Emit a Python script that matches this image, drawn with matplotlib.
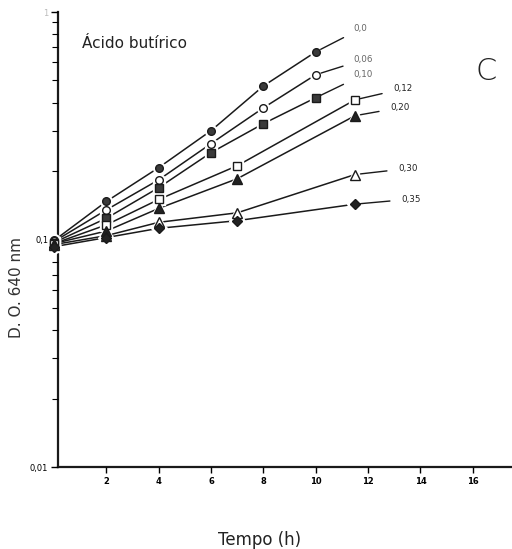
import matplotlib
matplotlib.use("Agg")
import matplotlib.pyplot as plt
from matplotlib.ticker import FixedLocator, LogLocator, NullFormatter, FixedFormatter

# ---- data ----
labels = ["0,0", "0,06", "0,10", "0,12", "0,20", "0,30", "0,35"]
t_a = [0, 2, 4, 6, 8, 10]
t_b = [0, 2, 4, 7, 11.5]
od_000 = [0.099, 0.147, 0.207, 0.301, 0.473, 0.668]
od_006 = [0.098, 0.135, 0.183, 0.264, 0.379, 0.530]
od_010 = [0.097, 0.124, 0.169, 0.241, 0.323, 0.420]
od_012 = [0.096, 0.116, 0.150, 0.211, 0.411]
od_020 = [0.096, 0.109, 0.137, 0.185, 0.350]
od_030 = [0.095, 0.104, 0.119, 0.131, 0.193]
od_035 = [0.093, 0.102, 0.112, 0.121, 0.143]
x_ticks = [2, 4, 6, 8, 10, 12, 14, 16]
y_ticks = [0.01, 0.1, 1.0]
y_tick_labels = ["0,01", "0,1", "1"]

series = [
    (t_a, od_000, "o", "#3a3a3a", (38, -23), "#666666"),
    (t_a, od_006, "o", "white", (38, -15), "#666666"),
    (t_a, od_010, "s", "#3a3a3a", (38, -23), "#666666"),
    (t_b, od_012, "s", "white", (38, -11), "#222222"),
    (t_b, od_020, "^", "#222222", (35, -8), "#222222"),
    (t_b, od_030, "^", "white", (43, -6), "#222222"),
    (t_b, od_035, "D", "#222222", (46, -5), "#222222"),
]

fig = plt.figure(figsize=(5.12, 5.49), dpi=100)
ax = fig.add_axes([58 / 512, 1 - 467 / 549, 1 - 58 / 512, (467 - 12) / 549])
ax.set_yscale("log")
ax.set_xlim(0.15, 17.5)
ax.set_ylim(0.01, 1.0)

for (t, v, mk, fc, off, tc), lab in zip(series, labels):
    ms = 5.5 if mk in ("o", "s") else 6.5
    if mk == "D":
        ms = 5.0
    ax.plot(t, v, color="#1a1a1a", lw=1.1, clip_on=False, zorder=2)
    ax.plot(t, v, ls="none", marker=mk, ms=ms + 3, mfc="white", mec="white",
            clip_on=False, zorder=3)
    ax.plot(t, v, ls="none", marker=mk, ms=ms, mfc=fc, mec="#1a1a1a", mew=1.0,
            clip_on=False, zorder=4)
    px = off[0] * 0.72
    py = -off[1] * 0.72
    ax.annotate(lab, xy=(t[-1], v[-1]), xytext=(px, py), textcoords="offset points",
                fontsize=6.3, color=tc, va="center", ha="left",
                arrowprops=dict(arrowstyle="-", color="#1a1a1a", lw=1.0,
                                shrinkA=6, shrinkB=4))

for s in ("top", "right"):
    ax.spines[s].set_visible(False)
for s in ("left", "bottom"):
    ax.spines[s].set_linewidth(1.6)
    ax.spines[s].set_color("#1a1a1a")
    ax.spines[s].set_zorder(1)

ax.xaxis.set_major_locator(FixedLocator(x_ticks))
ax.set_xticklabels([str(x) for x in x_ticks], fontsize=6, fontweight="bold")
ax.tick_params(axis="x", direction="out", length=4, width=1, pad=3)

ax.yaxis.set_major_locator(FixedLocator(y_ticks))
ax.yaxis.set_major_formatter(FixedFormatter(y_tick_labels))
ax.yaxis.set_minor_locator(LogLocator(base=10, subs=range(2, 10)))
ax.yaxis.set_minor_formatter(NullFormatter())
ax.tick_params(axis="y", which="major", direction="out", length=5, width=1, labelsize=6, pad=2)
ax.tick_params(axis="y", which="minor", direction="out", length=4, width=0.8)
ax.get_yticklabels()[-1].set_color("#bbbbbb")

fig.text(82 / 512, 1 - 43 / 549, "Ácido butírico", fontsize=11, color="#222222",
         ha="left", va="center")
fig.text(486 / 512, 1 - 72 / 549, "C", fontsize=22, color="#222222",
         ha="center", va="center", fontweight="light")
fig.text(17 / 512, 1 - 288 / 549, "D. O. 640 nm", fontsize=11, color="#333333",
         rotation=90, ha="center", va="center")
fig.text(260 / 512, 1 - 540 / 549, "Tempo (h)", fontsize=12, color="#222222",
         ha="center", va="center")

fig.savefig("out.png", dpi=100)
